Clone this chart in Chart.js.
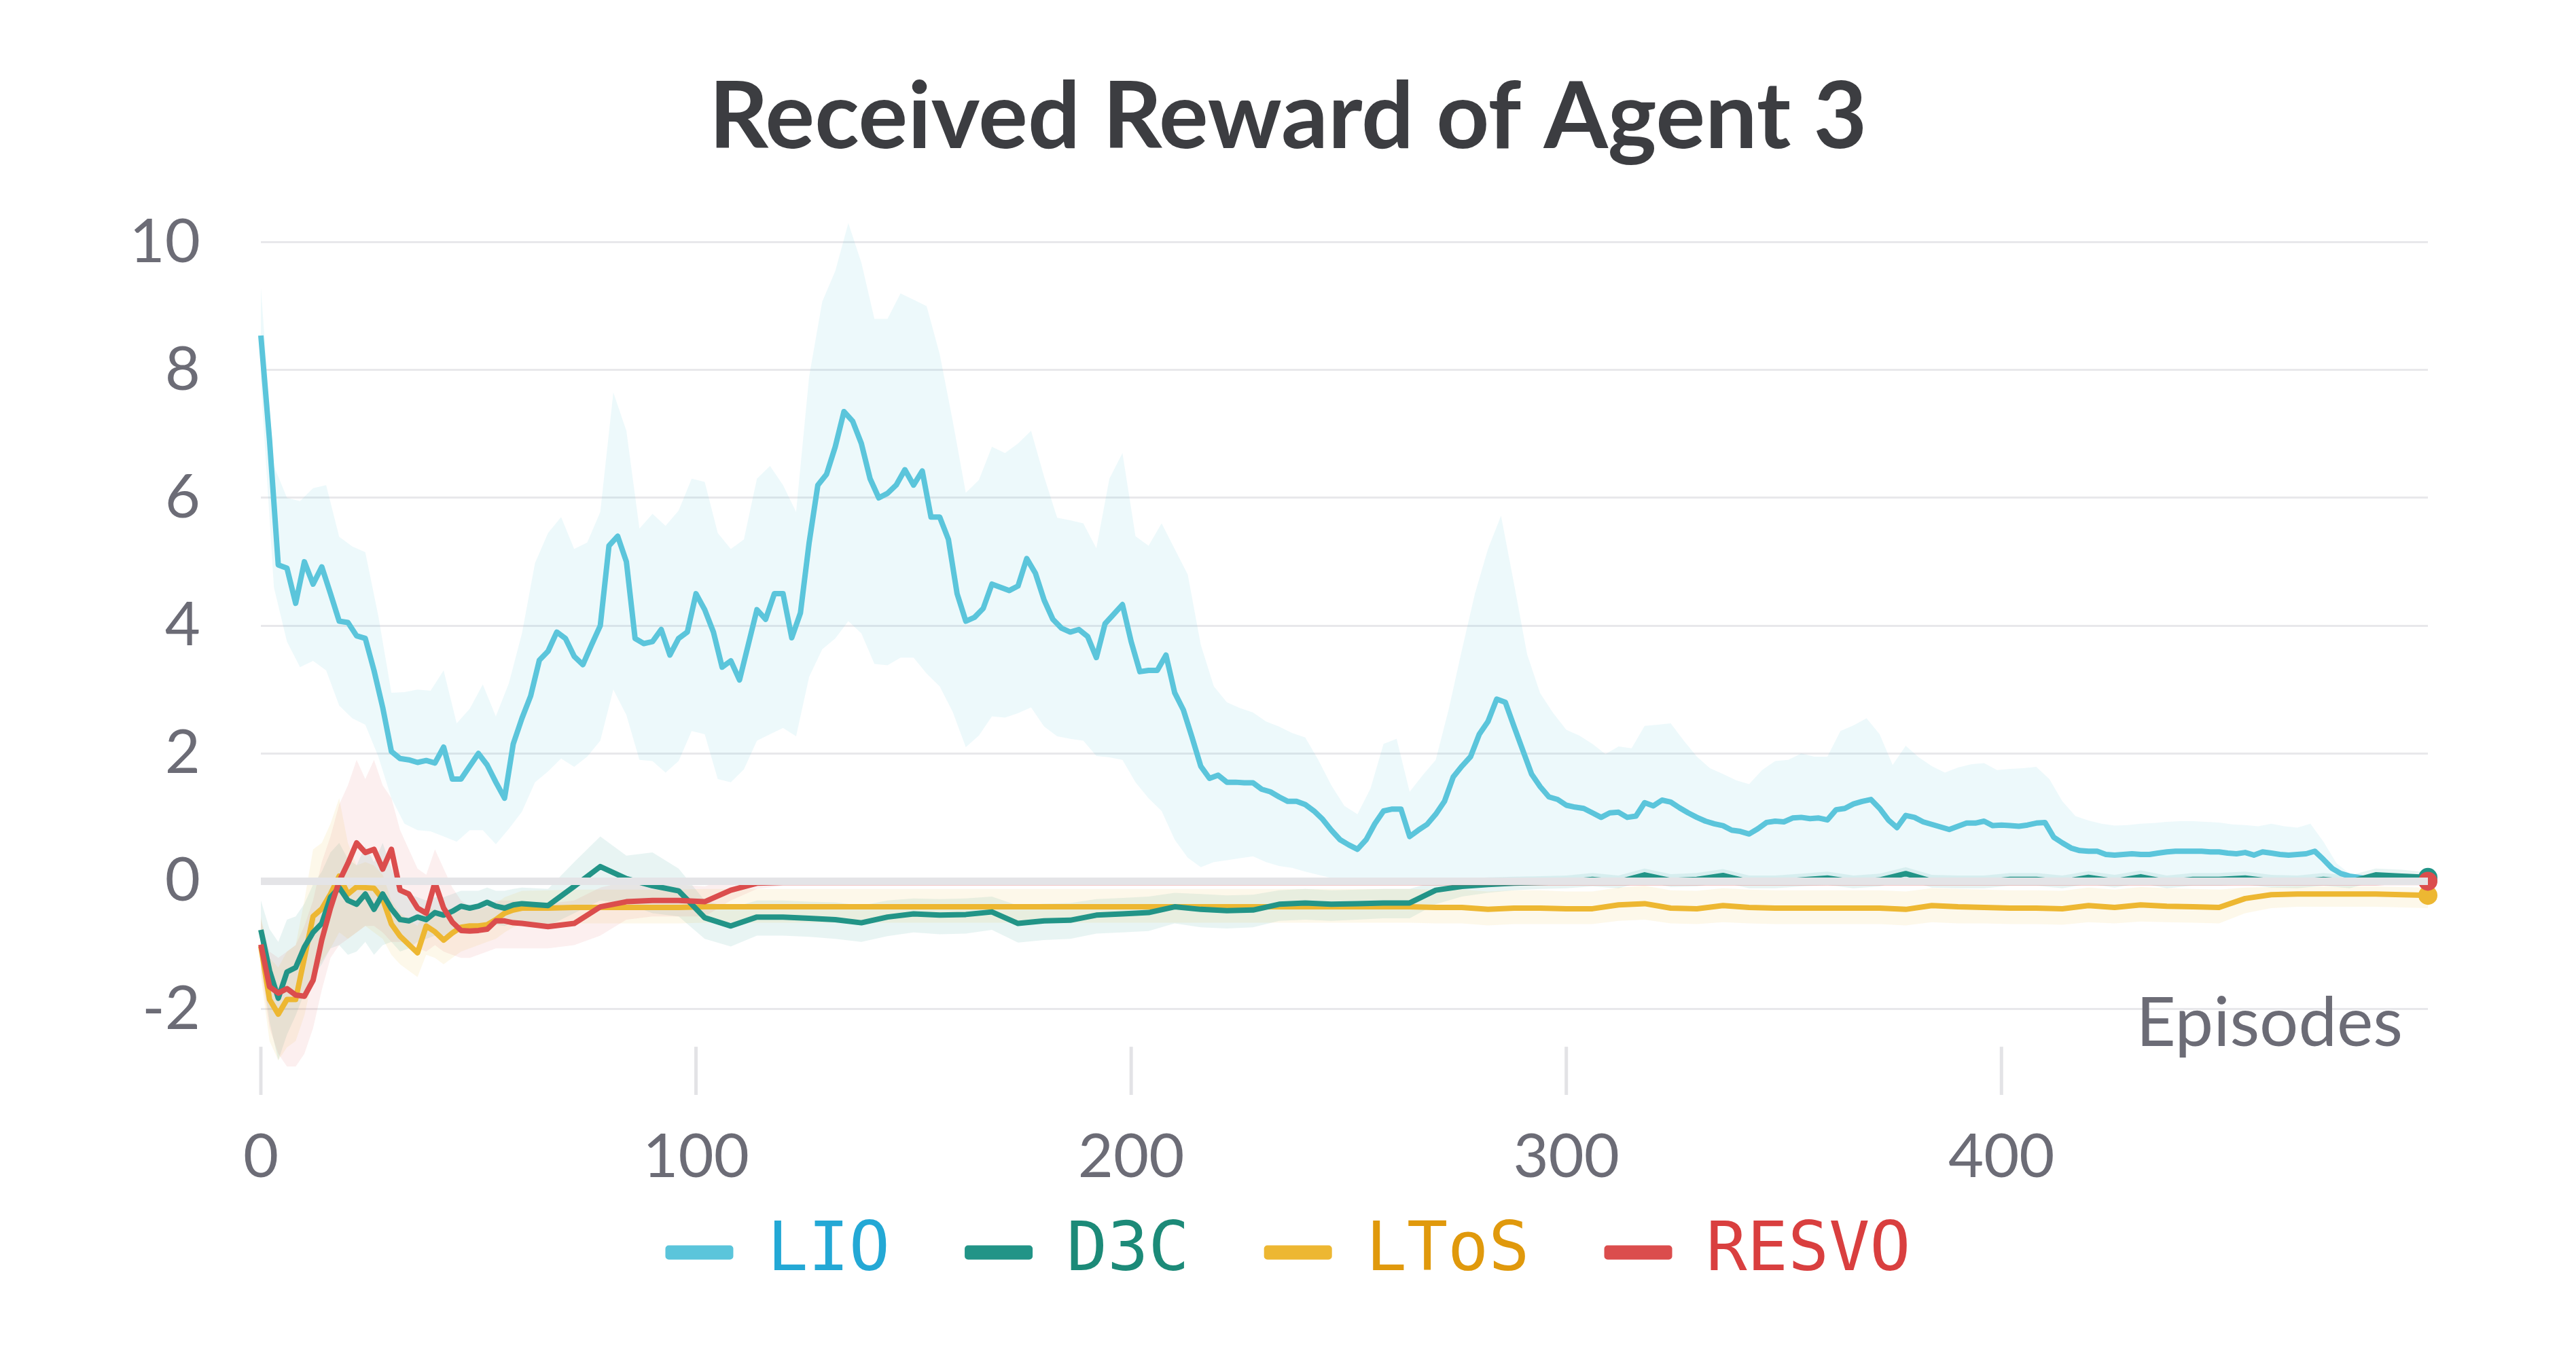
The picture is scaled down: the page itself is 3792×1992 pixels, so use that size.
<!DOCTYPE html>
<html>
<head>
<meta charset="utf-8">
<title>Received Reward of Agent 3</title>
<script src="https://cdn.jsdelivr.net/npm/chart.js@4.4.1/dist/chart.umd.min.js"></script>
<style>
  html, body { margin: 0; padding: 0; background: #fff; }
  #wrap { width: 3792px; height: 1992px; }
</style>
</head>
<body>
<div id="wrap"><canvas id="chart" width="3792" height="1992"></canvas></div>
<script>
// ===== DATA =====

const xTicks = [0, 100, 200, 300, 400];
const yTicks = [-2, 0, 2, 4, 6, 8, 10];

// episode grids: LIO mean every 2 episodes, LIO band every 3,
// the three flat-ish series every 2 up to 60 and every 6 afterwards
const epLio = Array.from({ length: 250 }, (_, i) => i * 2);
const epLioBand = Array.from({ length: 167 }, (_, i) => i * 3);
const epSmall = Array.from({ length: 31 }, (_, i) => i * 2)
  .concat(Array.from({ length: 73 }, (_, i) => 66 + i * 6));

const lioMean = [
  8.54, 6.9, 4.95, 4.9, 4.35, 5.0, 4.65, 4.92, 4.5, 4.07,
  4.05, 3.84, 3.8, 3.3, 2.72, 2.03, 1.92, 1.9, 1.86, 1.89,
  1.85, 2.1, 1.6, 1.6, 1.8, 2.0, 1.82, 1.55, 1.3, 2.15,
  2.55, 2.9, 3.46, 3.6, 3.9, 3.8, 3.52, 3.39, 3.7, 4.0,
  5.25, 5.4, 5.0, 3.8, 3.72, 3.75, 3.94, 3.54, 3.8, 3.9,
  4.5, 4.25, 3.9, 3.35, 3.45, 3.15, 3.7, 4.25, 4.1, 4.5,
  4.5, 3.81, 4.2, 5.3, 6.2, 6.37, 6.8, 7.35, 7.2, 6.85,
  6.3, 6.0, 6.07, 6.2, 6.44, 6.2, 6.42, 5.7, 5.7, 5.35,
  4.5, 4.07, 4.13, 4.27, 4.65, 4.6, 4.55, 4.62, 5.05, 4.82,
  4.4, 4.1, 3.96, 3.9, 3.94, 3.83, 3.5, 4.03, 4.18, 4.33,
  3.75, 3.28, 3.3, 3.3, 3.54, 2.95, 2.68, 2.25, 1.8, 1.61,
  1.66, 1.55, 1.55, 1.54, 1.54, 1.44, 1.4, 1.32, 1.25, 1.25,
  1.2, 1.1, 0.97, 0.8, 0.65, 0.57, 0.5, 0.65, 0.9, 1.1,
  1.13, 1.13, 0.7, 0.8, 0.89, 1.05, 1.25, 1.63, 1.8, 1.95,
  2.3, 2.5, 2.85, 2.8, 2.42, 2.05, 1.68, 1.48, 1.32, 1.28,
  1.19, 1.16, 1.14, 1.07, 1.0, 1.07, 1.08, 1.0, 1.02, 1.23,
  1.18, 1.27, 1.24, 1.15, 1.07, 1.0, 0.94, 0.9, 0.87, 0.8,
  0.78, 0.74, 0.82, 0.92, 0.94, 0.93, 0.99, 1.0, 0.98, 0.99,
  0.96, 1.12, 1.14, 1.21, 1.25, 1.28, 1.14, 0.96, 0.84, 1.03,
  1.0, 0.93, 0.89, 0.85, 0.81, 0.86, 0.91, 0.91, 0.94, 0.87,
  0.88, 0.87, 0.86, 0.88, 0.91, 0.92, 0.69, 0.6, 0.52, 0.48,
  0.47, 0.47, 0.42, 0.41, 0.42, 0.43, 0.42, 0.42, 0.44, 0.46,
  0.47, 0.47, 0.47, 0.47, 0.46, 0.46, 0.44, 0.43, 0.45, 0.41,
  0.46, 0.44, 0.42, 0.41, 0.42, 0.43, 0.47, 0.34, 0.2, 0.12,
  0.08, 0.06, 0.04, 0.03, 0.02, 0.02, 0.02, 0.02, 0.02, 0.02
];

const lioUpper = [
  9.29, 6.5, 6.0, 5.95, 6.15, 6.2, 5.39, 5.24, 5.15, 4.15,
  2.95, 2.96, 3.0, 2.98, 3.3, 2.47, 2.7, 3.08, 2.58, 3.1,
  3.88, 4.98, 5.45, 5.7, 5.2, 5.3, 5.78, 7.65, 7.05, 5.52,
  5.75, 5.56, 5.8, 6.3, 6.25, 5.45, 5.2, 5.35, 6.3, 6.5,
  6.2, 5.78, 7.9, 9.07, 9.55, 10.3, 9.68, 8.8, 8.8, 9.2,
  9.1, 9.0, 8.25, 7.2, 6.08, 6.28, 6.8, 6.7, 6.85, 7.05,
  6.33, 5.69, 5.65, 5.6, 5.21, 6.3, 6.7, 5.4, 5.25, 5.6,
  5.2, 4.8, 3.7, 3.05, 2.8, 2.71, 2.64, 2.5, 2.42, 2.32,
  2.25, 1.9, 1.5, 1.18, 1.05, 1.45, 2.15, 2.23, 1.4, 1.66,
  1.9, 2.7, 3.62, 4.5, 5.2, 5.72, 4.65, 3.55, 2.94, 2.63,
  2.37, 2.28, 2.15, 1.99, 2.11, 2.08, 2.43, 2.45, 2.47, 2.2,
  1.95, 1.77, 1.68, 1.58, 1.52, 1.74, 1.88, 1.9, 2.0, 1.95,
  1.95, 2.35, 2.44, 2.55, 2.3, 1.82, 2.12, 1.94, 1.8, 1.7,
  1.78, 1.83, 1.85, 1.74, 1.76, 1.77, 1.79, 1.6, 1.25, 1.02,
  0.95, 0.9, 0.87, 0.88, 0.9, 0.91, 0.93, 0.94, 0.94, 0.93,
  0.92, 0.89, 0.88, 0.86, 0.9, 0.86, 0.84, 0.9, 0.62, 0.28,
  0.12, 0.07, 0.06, 0.05, 0.05, 0.05, 0.05
];

const lioLower = [
  7.8, 4.6, 3.75, 3.35, 3.45, 3.3, 2.75, 2.55, 2.45, 1.95,
  1.3, 0.9, 0.8, 0.78, 0.7, 0.62, 0.8, 0.8, 0.58, 0.82,
  1.09, 1.55, 1.72, 1.92, 1.79, 1.95, 2.2, 3.0, 2.6, 1.9,
  1.88, 1.7, 1.88, 2.35, 2.3, 1.6, 1.55, 1.75, 2.2, 2.3,
  2.4, 2.27, 3.2, 3.63, 3.8, 4.07, 3.88, 3.4, 3.38, 3.5,
  3.5, 3.25, 3.05, 2.65, 2.1, 2.28, 2.58, 2.56, 2.63, 2.72,
  2.42, 2.27, 2.23, 2.2, 1.96, 1.94, 1.9, 1.55, 1.3, 1.1,
  0.65, 0.37, 0.22, 0.3, 0.33, 0.36, 0.39, 0.3, 0.24, 0.21,
  0.15, 0.1, 0.05, -0.02, -0.02, -0.02, -0.02, -0.02, -0.02, -0.02,
  -0.02, -0.02, -0.02, -0.02, -0.02, -0.02, -0.02, -0.02, -0.02, -0.02,
  -0.02, -0.02, -0.02, -0.02, -0.02, -0.02, -0.02, -0.02, -0.02, -0.02,
  -0.02, -0.02, -0.02, -0.02, -0.02, -0.02, -0.02, -0.02, -0.02, -0.02,
  -0.02, -0.02, -0.02, -0.02, -0.02, -0.02, -0.02, -0.02, -0.02, -0.02,
  -0.02, -0.02, -0.02, -0.02, -0.02, -0.02, -0.02, -0.02, -0.02, -0.02,
  -0.02, -0.02, -0.02, -0.02, -0.02, -0.02, -0.02, -0.02, -0.02, -0.02,
  -0.02, -0.02, -0.02, -0.02, -0.02, -0.02, -0.02, -0.02, -0.02, -0.02,
  -0.02, -0.02, -0.02, -0.02, -0.02, -0.02, -0.02
];

const d3cMean = [
  -0.76, -1.4, -1.83, -1.42, -1.35, -1.03, -0.8, -0.66, -0.25, -0.1,
  -0.3, -0.36, -0.2, -0.44, -0.2, -0.43, -0.6, -0.62, -0.56, -0.6,
  -0.49, -0.53, -0.47, -0.39, -0.42, -0.39, -0.33, -0.39, -0.42, -0.37,
  -0.35,
  -0.38, -0.08, 0.23, 0.04, -0.07, -0.15, -0.57, -0.7, -0.56, -0.56,
  -0.58, -0.6, -0.65, -0.56, -0.51, -0.53, -0.52, -0.48, -0.66, -0.62,
  -0.61, -0.53, -0.51, -0.49, -0.4, -0.44, -0.46, -0.45, -0.36, -0.34,
  -0.36, -0.35, -0.34, -0.34, -0.14, -0.08, -0.05, -0.03, -0.02, -0.01,
  0.03, -0.01, 0.1, 0.01, 0.03, 0.09, -0.01, -0.01, 0.02, 0.05,
  -0.01, 0.02, 0.12, 0.0, -0.01, -0.01, 0.03, 0.03, -0.01, 0.06,
  0.0, 0.07, -0.01, 0.03, 0.03, 0.05, 0.0, -0.01, 0.03, -0.01,
  0.1, 0.08, 0.06
];
const d3cUpper = [
  -0.3, -0.75, -0.95, -0.6, -0.55, -0.35, -0.05, 0.15, 0.45, 0.6,
  0.35, 0.25, 0.55, 0.3, 0.6, 0.2, -0.1, -0.2, -0.25, -0.3,
  -0.25, -0.25, -0.2, -0.15, -0.15, -0.15, -0.1, -0.15, -0.15, -0.12,
  -0.1,
  -0.12, 0.3, 0.7, 0.4, 0.45, 0.2, -0.3, -0.42, -0.3, -0.3,
  -0.32, -0.33, -0.38, -0.3, -0.27, -0.28, -0.27, -0.24, -0.38, -0.35,
  -0.34, -0.28, -0.26, -0.24, -0.18, -0.2, -0.22, -0.21, -0.14, -0.12,
  -0.14, -0.13, -0.12, -0.12, 0.0, 0.04, 0.06, 0.07, 0.08, 0.09,
  0.13, 0.09, 0.2, 0.11, 0.13, 0.19, 0.09, 0.09, 0.12, 0.15,
  0.09, 0.12, 0.22, 0.1, 0.09, 0.09, 0.13, 0.13, 0.09, 0.16,
  0.1, 0.17, 0.09, 0.13, 0.13, 0.15, 0.1, 0.09, 0.13, 0.09,
  0.2, 0.18, 0.14
];
const d3cLower = [
  -1.25, -2.2, -2.8, -2.4, -2.1, -1.75, -1.5, -1.3, -1.05, -1.0,
  -1.15, -1.1, -0.95, -1.15, -1.0, -0.95, -1.1, -1.05, -0.95, -0.9,
  -0.85, -0.85, -0.8, -0.75, -0.75, -0.7, -0.65, -0.68, -0.7, -0.65,
  -0.65,
  -0.7, -0.5, -0.3, -0.35, -0.5, -0.55, -0.9, -1.02, -0.85, -0.85,
  -0.87, -0.9, -0.95, -0.86, -0.8, -0.83, -0.82, -0.76, -0.96, -0.92,
  -0.9, -0.82, -0.8, -0.78, -0.66, -0.72, -0.74, -0.72, -0.62, -0.6,
  -0.62, -0.6, -0.58, -0.58, -0.36, -0.24, -0.18, -0.14, -0.12, -0.11,
  -0.08, -0.11, 0.0, -0.09, -0.08, -0.02, -0.11, -0.11, -0.08, -0.06,
  -0.11, -0.08, 0.02, -0.1, -0.11, -0.11, -0.07, -0.07, -0.11, -0.04,
  -0.1, -0.03, -0.11, -0.07, -0.07, -0.05, -0.1, -0.11, -0.07, -0.11,
  0.0, -0.02, -0.04
];

const ltosMean = [
  -1.02, -1.85, -2.08, -1.85, -1.85, -1.2, -0.55, -0.43, -0.2, 0.08,
  -0.2, -0.09, -0.1, -0.11, -0.28, -0.67, -0.86, -0.99, -1.12, -0.7,
  -0.79, -0.92, -0.81, -0.72, -0.7, -0.7, -0.68, -0.6, -0.5, -0.45,
  -0.42,
  -0.42, -0.41, -0.41, -0.41, -0.41, -0.41, -0.4, -0.4, -0.4, -0.4,
  -0.4, -0.4, -0.4, -0.4, -0.4, -0.4, -0.4, -0.4, -0.4, -0.4,
  -0.4, -0.4, -0.4, -0.4, -0.4, -0.4, -0.4, -0.4, -0.4, -0.4,
  -0.4, -0.4, -0.4, -0.4, -0.41, -0.41, -0.44, -0.42, -0.42, -0.43,
  -0.43, -0.37, -0.35, -0.42, -0.43, -0.38, -0.41, -0.42, -0.42, -0.42,
  -0.42, -0.42, -0.44, -0.38, -0.4, -0.41, -0.42, -0.42, -0.43, -0.38,
  -0.41, -0.37, -0.39, -0.4, -0.41, -0.27, -0.21, -0.2, -0.2, -0.2,
  -0.2, -0.21, -0.22
];
const ltosUpper = [
  -0.55, -1.2, -1.35, -1.1, -1.0, -0.3, 0.5, 0.6, 0.9, 1.3,
  0.6, 0.25, 0.3, 0.25, 0.1, -0.3, -0.5, -0.6, -0.7, -0.4,
  -0.45, -0.55, -0.5, -0.45, -0.45, -0.45, -0.4, -0.35, -0.25, -0.2,
  -0.15,
  -0.14, -0.13, -0.13, -0.13, -0.13, -0.13, -0.12, -0.12, -0.12, -0.12,
  -0.12, -0.12, -0.12, -0.12, -0.12, -0.12, -0.12, -0.12, -0.12, -0.12,
  -0.12, -0.12, -0.12, -0.12, -0.12, -0.12, -0.12, -0.12, -0.12, -0.12,
  -0.12, -0.12, -0.12, -0.12, -0.13, -0.13, -0.16, -0.14, -0.14, -0.16,
  -0.16, -0.1, -0.07, -0.14, -0.15, -0.11, -0.13, -0.14, -0.14, -0.14,
  -0.14, -0.14, -0.16, -0.11, -0.12, -0.13, -0.14, -0.14, -0.15, -0.1,
  -0.13, -0.09, -0.11, -0.12, -0.13, -0.1, -0.09, -0.08, -0.08, -0.08,
  -0.08, -0.09, -0.1
];
const ltosLower = [
  -1.5, -2.5, -2.8, -2.6, -2.5, -2.1, -1.5, -1.25, -1.05, -0.8,
  -0.9, -0.8, -0.7, -0.8, -0.9, -1.15, -1.3, -1.4, -1.5, -1.15,
  -1.2, -1.3, -1.2, -1.1, -1.05, -1.0, -0.95, -0.9, -0.8, -0.72,
  -0.68,
  -0.67, -0.66, -0.66, -0.66, -0.66, -0.66, -0.65, -0.65, -0.65, -0.65,
  -0.65, -0.65, -0.65, -0.65, -0.65, -0.65, -0.65, -0.65, -0.65, -0.65,
  -0.65, -0.65, -0.65, -0.65, -0.65, -0.65, -0.65, -0.65, -0.65, -0.65,
  -0.65, -0.65, -0.65, -0.65, -0.66, -0.66, -0.69, -0.67, -0.67, -0.67,
  -0.67, -0.62, -0.6, -0.66, -0.67, -0.64, -0.66, -0.67, -0.67, -0.67,
  -0.67, -0.67, -0.69, -0.64, -0.66, -0.66, -0.67, -0.67, -0.68, -0.64,
  -0.66, -0.63, -0.64, -0.65, -0.66, -0.5, -0.42, -0.4, -0.4, -0.4,
  -0.4, -0.41, -0.42
];

const resvoMean = [
  -0.99, -1.65, -1.75, -1.68, -1.78, -1.8, -1.55, -0.92, -0.42, 0.0,
  0.28, 0.6, 0.45, 0.5, 0.19, 0.5, -0.14, -0.2, -0.42, -0.5,
  -0.02, -0.42, -0.64, -0.77, -0.78, -0.77, -0.75, -0.62, -0.62, -0.65,
  -0.66,
  -0.71, -0.66, -0.4, -0.32, -0.3, -0.3, -0.32, -0.14, -0.03, -0.02,
  -0.02, -0.02, -0.02, -0.02, -0.02, -0.02, -0.02, -0.02, -0.02, -0.02,
  -0.02, -0.02, -0.02, -0.02, -0.02, -0.02, -0.02, -0.02, -0.02, -0.02,
  -0.02, -0.02, -0.02, -0.02, -0.02, -0.02, -0.02, -0.02, -0.02, -0.02,
  -0.02, -0.02, -0.02, -0.02, -0.02, -0.02, -0.02, -0.02, -0.02, -0.02,
  -0.02, -0.02, -0.02, -0.02, -0.02, -0.02, -0.02, -0.02, -0.02, -0.02,
  -0.02, -0.02, -0.02, -0.02, -0.02, -0.02, -0.02, -0.02, -0.02, -0.02,
  -0.02, -0.01, 0.0
];
const resvoUpper = [
  -0.6, -1.1, -1.2, -1.1, -1.0, -0.7, -0.3, 0.3, 0.7, 1.2,
  1.5, 1.9, 1.6, 1.9, 1.5, 1.3, 0.8, 0.5, 0.2, 0.1,
  0.5, 0.2, -0.1, -0.3, -0.4, -0.4, -0.4, -0.3, -0.3, -0.3,
  -0.32,
  -0.35, -0.3, -0.1, 0.0, -0.05, -0.05, -0.08, 0.05, 0.05, 0.03,
  0.03, 0.03, 0.03, 0.03, 0.03, 0.03, 0.03, 0.03, 0.03, 0.03,
  0.03, 0.03, 0.03, 0.03, 0.03, 0.03, 0.03, 0.03, 0.03, 0.03,
  0.03, 0.03, 0.03, 0.03, 0.03, 0.03, 0.03, 0.03, 0.03, 0.03,
  0.03, 0.03, 0.03, 0.03, 0.03, 0.03, 0.03, 0.03, 0.03, 0.03,
  0.03, 0.03, 0.03, 0.03, 0.03, 0.03, 0.03, 0.03, 0.03, 0.03,
  0.03, 0.03, 0.03, 0.03, 0.03, 0.03, 0.03, 0.03, 0.03, 0.03,
  0.03, 0.03, 0.03
];
const resvoLower = [
  -1.4, -2.3, -2.7, -2.9, -2.9, -2.7, -2.3, -1.7, -1.2, -1.0,
  -0.9, -0.8, -0.7, -0.7, -0.8, -0.95, -0.95, -0.95, -1.05, -1.1,
  -1.0, -1.1, -1.15, -1.2, -1.2, -1.15, -1.1, -1.05, -1.05, -1.05,
  -1.05,
  -1.05, -1.0, -0.85, -0.6, -0.55, -0.55, -0.55, -0.3, -0.12, -0.07,
  -0.07, -0.07, -0.07, -0.07, -0.07, -0.07, -0.07, -0.07, -0.07, -0.07,
  -0.07, -0.07, -0.07, -0.07, -0.07, -0.07, -0.07, -0.07, -0.07, -0.07,
  -0.07, -0.07, -0.07, -0.07, -0.07, -0.07, -0.07, -0.07, -0.07, -0.07,
  -0.07, -0.07, -0.07, -0.07, -0.07, -0.07, -0.07, -0.07, -0.07, -0.07,
  -0.07, -0.07, -0.07, -0.07, -0.07, -0.07, -0.07, -0.07, -0.07, -0.07,
  -0.07, -0.07, -0.07, -0.07, -0.07, -0.07, -0.07, -0.07, -0.07, -0.07,
  -0.07, -0.07, -0.07
];

// ===== STYLE =====

const lineColors = { LIO: '#5bc5db', D3C: '#229487', LToS: '#edb732', RESVO: '#db4d4d' };
const bandColors = {
  LIO: 'rgba(91, 197, 219, 0.11)',
  D3C: 'rgba(34, 148, 135, 0.1)',
  LToS: 'rgba(237, 183, 50, 0.1)',
  RESVO: 'rgba(219, 77, 77, 0.09)'
};
const labelColors = { LIO: '#23a8d5', D3C: '#1c8a78', LToS: '#e0990c', RESVO: '#d93f3f' };
const tickColor = '#6c6c76';

function pts(xs, ys) {
  return xs.map((x, i) => ({ x, y: ys[i] }));
}

function meanSet(label, xs, ys, order) {
  const last = ys.length - 1;
  return {
    label,
    data: pts(xs, ys),
    borderColor: lineColors[label],
    backgroundColor: lineColors[label],
    borderWidth: 8,
    borderJoinStyle: 'round',
    pointRadius: ctx => (ctx.dataIndex === last ? 14 : 0),
    pointHoverRadius: 0,
    pointBorderWidth: 0,
    pointBackgroundColor: lineColors[label],
    tension: 0,
    fill: false,
    clip: false,
    order
  };
}

function bandSet(label, xs, ys, fill, order) {
  return {
    label: label + ' band',
    data: pts(xs, ys),
    borderWidth: 0,
    borderColor: 'transparent',
    backgroundColor: bandColors[label],
    pointRadius: 0,
    pointHoverRadius: 0,
    tension: 0,
    fill,
    order
  };
}

// ===== OVERLAY: zero line, x tick marks, axis name, legend lift =====

const overlay = {
  id: 'overlay',
  afterLayout(chart) {
    // pull the legend row up so it sits right under the tick labels
    const lg = chart.legend;
    if (lg) {
      lg.top -= 59;
      lg.bottom -= 59;
    }
  },
  afterDatasetsDraw(chart) {
    const { ctx, chartArea, scales: { x, y } } = chart;
    ctx.save();
    const y0 = y.getPixelForValue(0);
    ctx.strokeStyle = '#e4e4e7';
    ctx.lineWidth = 11;
    ctx.beginPath();
    ctx.moveTo(chartArea.left, y0);
    ctx.lineTo(chartArea.right, y0);
    ctx.stroke();

    const tTop = y.getPixelForValue(-2.59);
    ctx.strokeStyle = '#e3e3e6';
    ctx.lineWidth = 5;
    xTicks.forEach(v => {
      const px = x.getPixelForValue(v);
      ctx.beginPath();
      ctx.moveTo(px, tTop);
      ctx.lineTo(px, chartArea.bottom + 37);
      ctx.stroke();
    });

    ctx.fillStyle = tickColor;
    ctx.font = '101px Lato';
    ctx.textAlign = 'right';
    ctx.textBaseline = 'alphabetic';
    ctx.fillText('Episodes', chartArea.right - 37, y.getPixelForValue(-2.58));
    ctx.restore();
  }
};

// ===== CHART =====

Chart.defaults.font.family = 'Lato';

new Chart(document.getElementById('chart'), {
  type: 'line',
  data: {
    datasets: [
      meanSet('LIO', epLio, lioMean, 4),
      meanSet('D3C', epSmall, d3cMean, 2),
      meanSet('LToS', epSmall, ltosMean, 3),
      meanSet('RESVO', epSmall, resvoMean, 1),
      bandSet('LIO', epLioBand, lioUpper, '+1', 10),
      bandSet('LIO', epLioBand, lioLower, false, 10),
      bandSet('D3C', epSmall, d3cUpper, '+1', 9),
      bandSet('D3C', epSmall, d3cLower, false, 9),
      bandSet('LToS', epSmall, ltosUpper, '+1', 8),
      bandSet('LToS', epSmall, ltosLower, false, 8),
      bandSet('RESVO', epSmall, resvoUpper, '+1', 7),
      bandSet('RESVO', epSmall, resvoLower, false, 7)
    ]
  },
  options: {
    responsive: false,
    maintainAspectRatio: false,
    devicePixelRatio: 1,
    animation: false,
    events: [],
    layout: { padding: { left: 0, right: 0, top: 0, bottom: 29 } },
    plugins: {
      tooltip: { enabled: false },
      title: {
        display: true,
        text: 'Received Reward of Agent 3',
        color: '#3c3d41',
        font: { family: 'Lato', size: 136, weight: 'bold', lineHeight: 1.2 },
        padding: { top: 93, bottom: 44 }
      },
      legend: {
        position: 'bottom',
        labels: {
          font: { family: 'DejaVu Sans Mono', size: 100 },
          boxWidth: 100,
          boxHeight: 21,
          padding: 110,
          useBorderRadius: true,
          borderRadius: 5,
          generateLabels: chart => chart.data.datasets.slice(0, 4).map((ds, i) => ({
            text: ds.label,
            fillStyle: ds.borderColor,
            strokeStyle: ds.borderColor,
            lineWidth: 0,
            fontColor: labelColors[ds.label],
            hidden: false,
            datasetIndex: i,
            borderRadius: 5
          }))
        }
      }
    },
    scales: {
      x: {
        type: 'linear',
        min: 0,
        max: 498,
        grid: { display: false, drawTicks: false },
        border: { display: false },
        ticks: { color: tickColor, font: { size: 90 }, padding: 75, maxRotation: 0 },
        afterBuildTicks: s => { s.ticks = xTicks.map(v => ({ value: v })); },
        afterFit: s => { s.height = 168; }
      },
      y: {
        type: 'linear',
        min: -2.95,
        max: 10.6,
        grid: { color: '#e8e8eb', lineWidth: 3, drawTicks: false },
        border: { display: false },
        ticks: { color: tickColor, font: { size: 90 }, padding: 89 },
        afterBuildTicks: s => { s.ticks = yTicks.map(v => ({ value: v })); },
        afterFit: s => { s.width = 384; }
      },
      // empty right margin so title and legend stay centred on the page
      yRight: {
        type: 'linear',
        position: 'right',
        grid: { display: false, drawTicks: false },
        border: { display: false },
        ticks: { display: false },
        afterFit: s => { s.width = 218; }
      }
    }
  },
  plugins: [overlay]
});
</script>
</body>
</html>
